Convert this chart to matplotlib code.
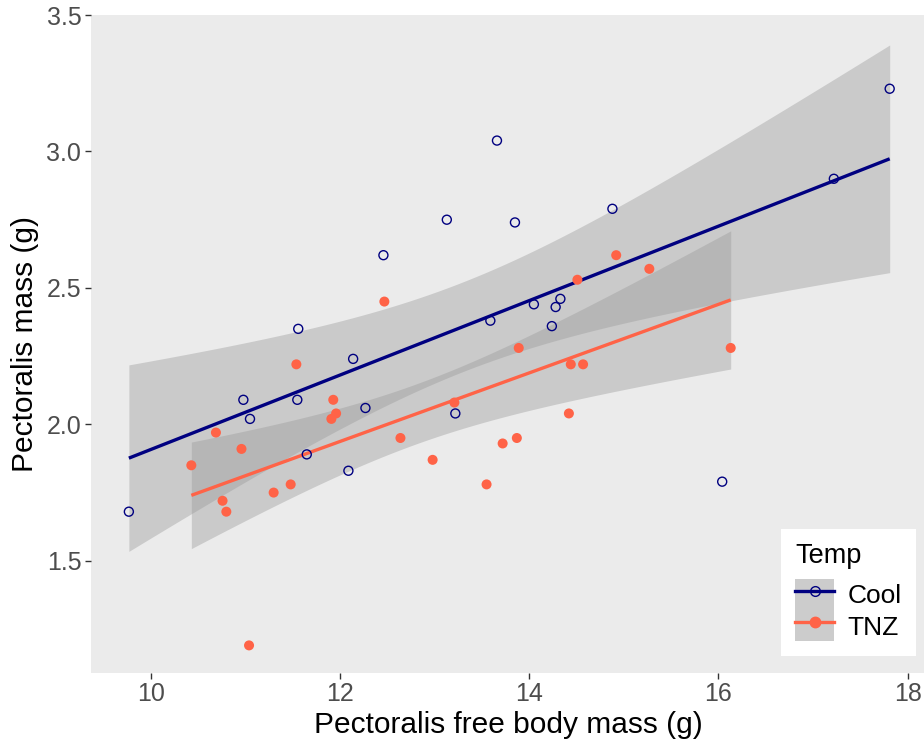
import numpy as np
import matplotlib
matplotlib.use("Agg")
import matplotlib.pyplot as plt
from matplotlib.lines import Line2D
from matplotlib.patches import Patch

plt.rcParams['font.family'] = ['Liberation Sans', 'DejaVu Sans']

# Pectoralis free body mass (g) and pectoralis mass (g), by temperature group
cool_x = [9.77, 10.98, 11.05, 11.55, 11.56, 11.65, 12.09, 12.14, 12.27, 12.46,
          13.13, 13.22, 13.59, 13.66, 13.85, 14.05, 14.24, 14.28, 14.33, 14.88,
          16.04, 17.22, 17.81]
cool_y = [1.68, 2.09, 2.02, 2.09, 2.35, 1.89, 1.83, 2.24, 2.06, 2.62,
          2.75, 2.04, 2.38, 3.04, 2.74, 2.44, 2.36, 2.43, 2.46, 2.79,
          1.79, 2.90, 3.23]

tnz_x = [10.43, 10.69, 10.76, 10.80, 10.96, 11.04, 11.30, 11.48, 11.54, 11.91,
         11.93, 11.96, 12.47, 12.64, 12.98, 13.21, 13.55, 13.72, 13.87, 13.89,
         14.42, 14.44, 14.51, 14.57, 14.92, 15.27, 16.13]
tnz_y = [1.85, 1.97, 1.72, 1.68, 1.91, 1.19, 1.75, 1.78, 2.22, 2.02,
         2.09, 2.04, 2.45, 1.95, 1.87, 2.08, 1.78, 1.93, 1.95, 2.28,
         2.04, 2.22, 2.53, 2.22, 2.62, 2.57, 2.28]

groups = ["Cool", "TNZ"]
x_ticks = [10, 12, 14, 16, 18]
y_ticks = [1.5, 2.0, 2.5, 3.0, 3.5]

COOL = "#000080"
TNZ = "#FF6347"
PANEL = "#EBEBEB"
RIBBON = (0.6, 0.6, 0.6, 0.4)
# Student t quantiles (0.9875) for a 97.5% confidence band, keyed by residual df
T_CRIT = {21: 2.414, 25: 2.385}


def lm_fit(x, y, n_grid=80):
    """Least-squares line with a confidence band for the mean."""
    x = np.asarray(x, float)
    y = np.asarray(y, float)
    n = len(x)
    b1, b0 = np.polyfit(x, y, 1)
    resid = y - (b0 + b1 * x)
    s = np.sqrt(np.sum(resid ** 2) / (n - 2))
    xg = np.linspace(x.min(), x.max(), n_grid)
    yg = b0 + b1 * xg
    se = s * np.sqrt(1.0 / n + (xg - x.mean()) ** 2 / np.sum((x - x.mean()) ** 2))
    t = T_CRIT[n - 2]
    return xg, yg, yg - t * se, yg + t * se


fig = plt.figure(figsize=(9.24, 7.49), dpi=100)
ax = fig.add_axes([0.0985, 0.1019, 0.9043, 0.878])
ax.set_facecolor(PANEL)
for sp in ax.spines.values():
    sp.set_visible(False)

for xs, ys, col, filled in [(cool_x, cool_y, COOL, False), (tnz_x, tnz_y, TNZ, True)]:
    xg, yg, lo, hi = lm_fit(xs, ys)
    ax.fill_between(xg, lo, hi, color=RIBBON, lw=0, zorder=1)
    ax.plot(xg, yg, color=col, lw=2.4, zorder=3, solid_capstyle='butt')
    if filled:
        ax.scatter(xs, ys, s=52, color=col, edgecolors='none', zorder=4)
    else:
        ax.scatter(xs, ys, s=42, facecolors='none', edgecolors=col,
                   linewidths=1.0, zorder=4)

ax.set_xlim(9.37, 18.2)
ax.set_ylim(1.09, 3.5)
ax.set_xticks(x_ticks)
ax.set_yticks(y_ticks)
ax.set_xticklabels([str(v) for v in x_ticks])
ax.set_yticklabels([f"{v:.1f}" for v in y_ticks])
ax.tick_params(axis='both', length=4, width=1, color='#333333',
               labelcolor='#4D4D4D', labelsize=18, pad=3)
ax.set_xlabel("Pectoralis free body mass (g)", fontsize=21.5, color='black', labelpad=3)
ax.set_ylabel("Pectoralis mass (g)", fontsize=21.5, color='black', labelpad=5)

key_bg = Patch(facecolor='#CCCCCC', edgecolor='none')
handles = [
    (key_bg, Line2D([], [], color=COOL, lw=2.4, marker='o', markersize=7,
                    markerfacecolor='none', markeredgecolor=COOL)),
    (key_bg, Line2D([], [], color=TNZ, lw=2.4, marker='o', markersize=7.5,
                    markerfacecolor=TNZ, markeredgecolor=TNZ)),
]
leg = fig.legend(handles, groups, title="Temp", loc='lower right',
                 bbox_to_anchor=(916 / 924, 93 / 749), bbox_transform=fig.transFigure,
                 fontsize=19, title_fontsize=19.5, frameon=True, fancybox=False,
                 handlelength=1.48, handleheight=1.44, labelspacing=0.0,
                 handletextpad=0.5, borderpad=0.55, borderaxespad=0.0,
                 alignment='left')
# gap between the legend title and the keys
leg._legend_box.sep = 7
leg.get_frame().set_facecolor('white')
leg.get_frame().set_edgecolor('none')
leg.get_frame().set_alpha(1.0)

fig.savefig("out.png", dpi=100)
